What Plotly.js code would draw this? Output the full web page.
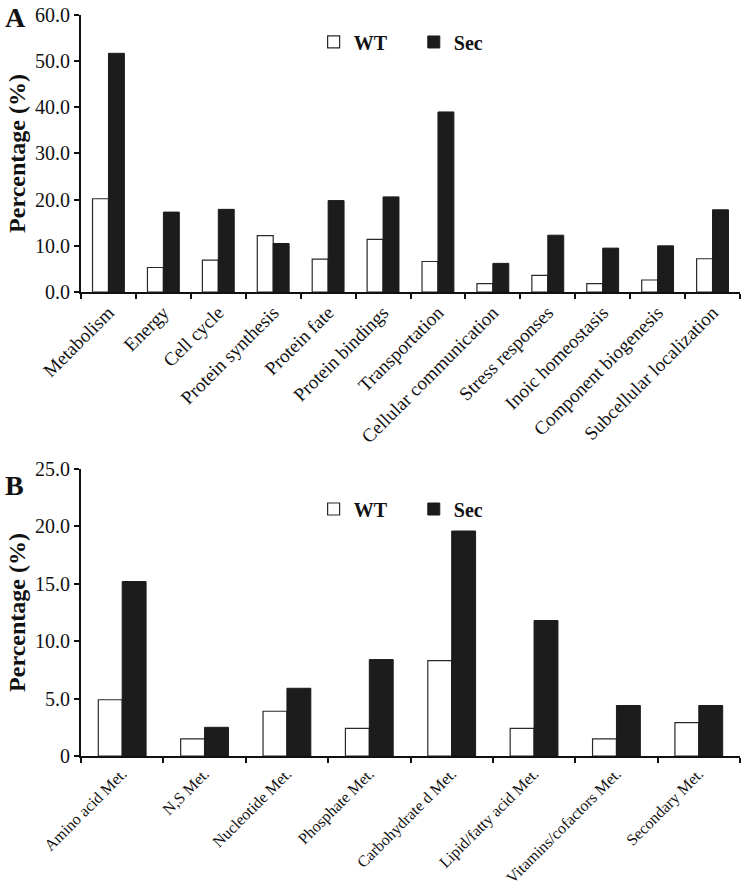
<!DOCTYPE html>
<html>
<head>
<meta charset="utf-8">
<script src="https://cdn.plot.ly/plotly-3.0.1.min.js"></script>
<style>html,body{margin:0;padding:0;background:#fff;}#chart{width:742px;height:886px;}</style>
</head>
<body>
<div id="chart"></div>
<script>
// Panel A: functional categories
const categoriesA = ["Metabolism", "Energy", "Cell cycle", "Protein synthesis", "Protein fate",
  "Protein bindings", "Transportation", "Cellular communication", "Stress responses",
  "Inoic homeostasis", "Component biogenesis", "Subcellular localization"];
const wtA  = [20.2, 5.3, 6.9, 12.2, 7.1, 11.4, 6.6, 1.8, 3.6, 1.8, 2.6, 7.2];
const secA = [51.7, 17.3, 17.9, 10.5, 19.8, 20.6, 39.0, 6.2, 12.3, 9.5, 10.0, 17.8];
const tickValsA = [0, 10, 20, 30, 40, 50, 60];
const tickTextA = ["0.0", "10.0", "20.0", "30.0", "40.0", "50.0", "60.0"];

// Panel B: metabolism subcategories
const categoriesB = ["Amino acid Met.", "N,S Met.", "Nucleotide Met.", "Phosphate Met.",
  "Carbohydrate d Met.", "Lipid/fatty acid Met.", "Vitamins/cofactors Met.", "Secondary Met."];
const wtB  = [4.9, 1.5, 3.9, 2.4, 8.3, 2.4, 1.5, 2.9];
const secB = [15.2, 2.5, 5.9, 8.4, 19.6, 11.8, 4.4, 4.4];
const tickValsB = [0, 5, 10, 15, 20, 25];
const tickTextB = ["0", "5.0", "10.0", "15.0", "20.0", "25.0"];

const seriesNames = ["WT", "Sec"];

const FONT = "'Liberation Serif', 'Times New Roman', serif";
const wtStyle = {color: "#ffffff", line: {color: "#2a2a2a", width: 1.2}};
const secStyle = {color: "#1c1c1c", line: {color: "#1c1c1c", width: 1}};

const traces = [
  {type: "bar", x: categoriesA, y: wtA, name: seriesNames[0], marker: wtStyle, xaxis: "x", yaxis: "y", legend: "legend"},
  {type: "bar", x: categoriesA, y: secA, name: seriesNames[1], marker: secStyle, xaxis: "x", yaxis: "y", legend: "legend2"},
  {type: "bar", x: categoriesB, y: wtB, name: seriesNames[0], marker: wtStyle, xaxis: "x2", yaxis: "y2", legend: "legend3"},
  {type: "bar", x: categoriesB, y: secB, name: seriesNames[1], marker: secStyle, xaxis: "x2", yaxis: "y2", legend: "legend4"}
];

const xCommon = {
  type: "category", showline: true, linecolor: "#111", linewidth: 2,
  ticks: "outside", tickson: "boundaries", ticklen: 5, tickwidth: 2, tickcolor: "#111",
  tickangle: -45, showgrid: false, zeroline: false, automargin: false,
  tickfont: {family: FONT, size: 19, color: "#111"}
};
const yCommon = {
  showline: true, linecolor: "#111", linewidth: 2,
  ticks: "outside", ticklen: 5, tickwidth: 2, tickcolor: "#111",
  showgrid: false, zeroline: false, automargin: false,
  tickfont: {family: FONT, size: 20, color: "#111"},
  title: {text: "Percentage (%)", font: {family: FONT, size: 24, color: "#111", weight: "bold"}, standoff: 3}
};

const legendBase = {orientation: "h", xanchor: "left", yanchor: "middle", bgcolor: "rgba(0,0,0,0)",
  font: {family: FONT, size: 20, color: "#111", weight: "bold"}, itemclick: false};

const layout = {
  width: 742, height: 886,
  margin: {l: 81, r: 2, t: 15, b: 130},
  paper_bgcolor: "#fff", plot_bgcolor: "#fff",
  barmode: "group", bargap: 0.42, bargroupgap: 0,
  xaxis: Object.assign({}, xCommon, {anchor: "y", domain: [0, 1]}),
  yaxis: Object.assign({}, yCommon, {anchor: "x", domain: [0.6262, 1], range: [0, 60],
    tickmode: "array", tickvals: tickValsA, ticktext: tickTextA}),
  xaxis2: Object.assign({}, xCommon, {anchor: "y2", domain: [0, 1],
    tickfont: {family: FONT, size: 16, color: "#111"}}),
  yaxis2: Object.assign({}, yCommon, {anchor: "x2", domain: [0, 0.3873], range: [0, 25],
    tickmode: "array", tickvals: tickValsB, ticktext: tickTextB,
    title: Object.assign({}, yCommon.title)}),
  legend: Object.assign({}, legendBase, {x: 0.353, y: 0.9636}),
  legend2: Object.assign({}, legendBase, {x: 0.505, y: 0.9636}),
  legend3: Object.assign({}, legendBase, {x: 0.353, y: 0.3333}),
  legend4: Object.assign({}, legendBase, {x: 0.505, y: 0.3333}),
  showlegend: true,
  annotations: [
    {text: "<b>A</b>", xref: "paper", yref: "paper", x: -0.118, y: 0.9973, xanchor: "left", yanchor: "middle",
      showarrow: false, font: {family: FONT, size: 28, color: "#111"}},
    {text: "<b>B</b>", xref: "paper", yref: "paper", x: -0.118, y: 0.3657, xanchor: "left", yanchor: "middle",
      showarrow: false, font: {family: FONT, size: 28, color: "#111"}}
  ]
};

Plotly.newPlot("chart", traces, layout, {staticPlot: true, displayModeBar: false});
</script>
</body>
</html>
